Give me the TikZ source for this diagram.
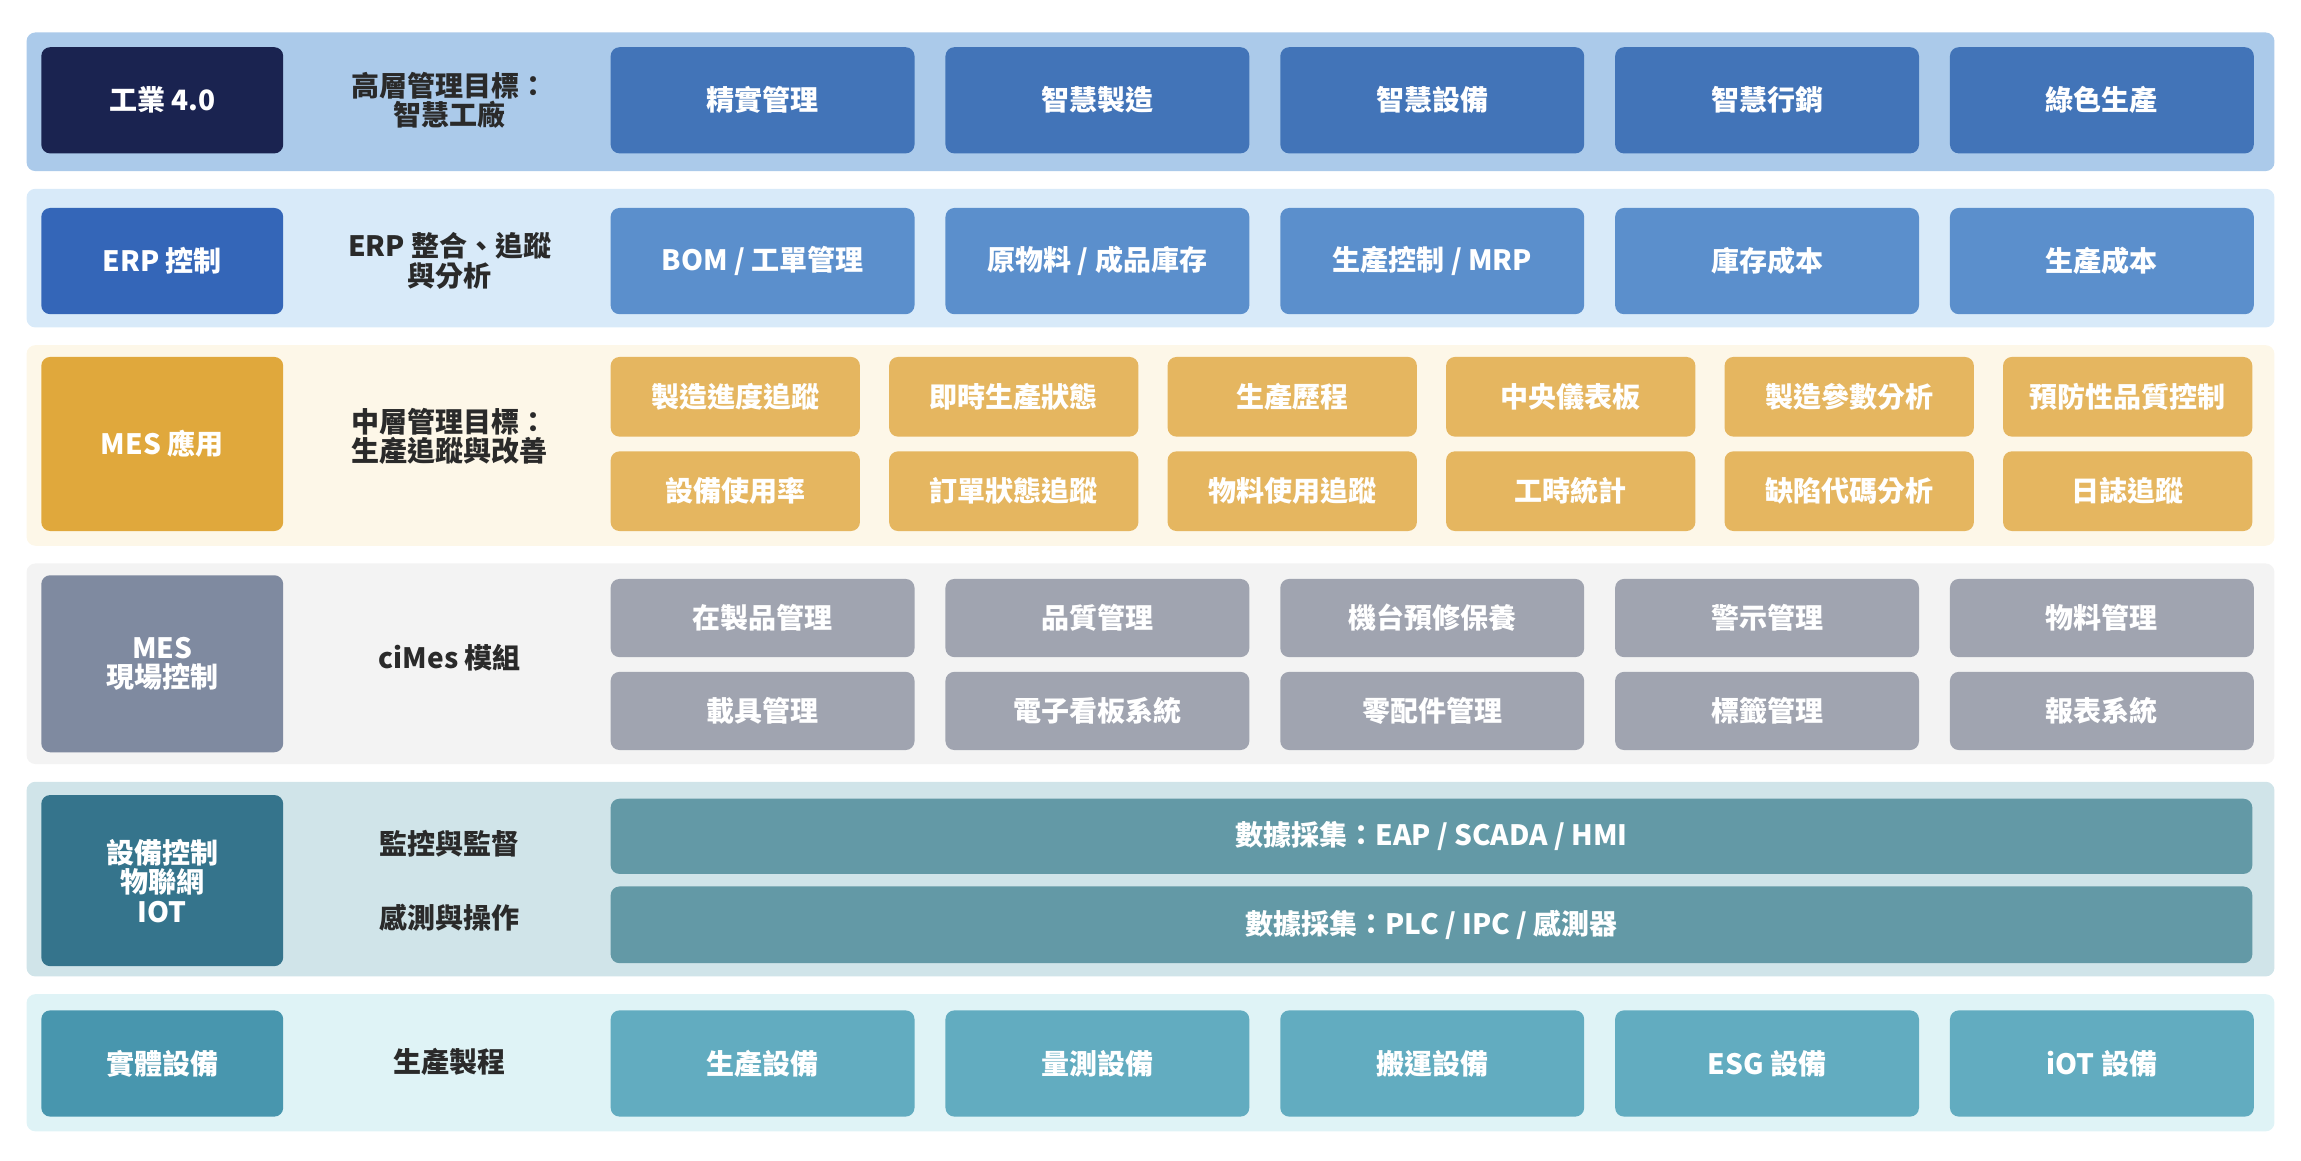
\documentclass[tikz,border=0pt]{standalone}
\usepackage{fontspec}
\setmainfont{Noto Sans CJK TC}
\usetikzlibrary{positioning}
\definecolor{bandA}{HTML}{ABCAEA}
\definecolor{bandB}{HTML}{D8EAF9}
\definecolor{bandC}{HTML}{FDF7E8}
\definecolor{bandD}{HTML}{F3F3F3}
\definecolor{bandE}{HTML}{D0E4E9}
\definecolor{bandF}{HTML}{DFF3F6}
\definecolor{headA}{HTML}{1A2350}
\definecolor{headB}{HTML}{3466B8}
\definecolor{headC}{HTML}{E0A83C}
\definecolor{headD}{HTML}{7F8AA0}
\definecolor{headE}{HTML}{35748C}
\definecolor{headF}{HTML}{4896AE}
\definecolor{itemA}{HTML}{4274B8}
\definecolor{itemB}{HTML}{5B8FCC}
\definecolor{itemC}{HTML}{E5B660}
\definecolor{itemD}{HTML}{A0A4B0}
\definecolor{itemE}{HTML}{6399A6}
\definecolor{itemF}{HTML}{62ACC0}
\definecolor{midtext}{HTML}{2A2A2A}
\begin{document}
\begin{tikzpicture}[x=1pt,y=-1pt,
    font=\fontsize{19}{23}\selectfont\bfseries,
    band/.style={rounded corners=6pt},
    head/.style={rounded corners=6pt, text=white, align=center, minimum width=164pt},
    item/.style={rounded corners=6pt, text=white, align=center},
    mid/.style={text=midtext, align=center}]
    \useasboundingbox (0,0) rectangle (1560,787);
    % Bands
    \fill[band, bandA] (18,22) rectangle (1542,116);
    \fill[band, bandB] (18,128) rectangle (1542,222);
    \fill[band, bandC] (18,234) rectangle (1542,370);
    \fill[band, bandD] (18,382) rectangle (1542,518);
    \fill[band, bandE] (18,530) rectangle (1542,662);
    \fill[band, bandF] (18,674) rectangle (1542,767);
    % Heads
    \node[head, fill=headA, minimum height=72pt] (industry) at (110,68) {工業 4.0};
    \node[head, fill=headB, minimum height=72pt] (erp) at (110,177) {ERP 控制};
    \node[head, fill=headC, minimum height=118pt] (mesapp) at (110,301) {MES 應用};
    \node[head, fill=headD, minimum height=120pt] (mesfloor) at (110,450) {MES\\[-3pt]現場控制};
    \node[head, fill=headE, minimum height=116pt] (iot) at (110,597) {設備控制\\[-3pt]物聯網\\[-3pt]IOT};
    \node[head, fill=headF, minimum height=72pt] (physical) at (110,721) {實體設備};
    % Middle labels
    \node[mid] (goal_top) at (305,68) {高層管理目標：\\[-3pt]智慧工廠};
    \node[mid] (goal_erp) at (305,177) {ERP 整合、追蹤\\[-3pt]與分析};
    \node[mid] (goal_mid) at (305,296) {中層管理目標：\\[-3pt]生產追蹤與改善};
    \node[mid] (goal_cimes) at (305,446) {ciMes 模組};
    \node[mid] (goal_watch) at (305,572) {監控與監督};
    \node[mid] (goal_sense) at (305,622) {感測與操作};
    \node[mid] (goal_proc) at (305,720) {生產製程};
    % Five-column rows
    \foreach \t [count=\i] in {精實管理,智慧製造,智慧設備,智慧行銷,綠色生產}
        \node[item, fill=itemA, minimum width=206pt, minimum height=72pt] (top\i) at (517+227*\i-227,68) {\t};
    \foreach \t [count=\i] in {BOM / 工單管理,原物料 / 成品庫存,生產控制 / MRP,庫存成本,生產成本}
        \node[item, fill=itemB, minimum width=206pt, minimum height=72pt] (erp\i) at (517+227*\i-227,177) {\t};
    \foreach \t [count=\i] in {在製品管理,品質管理,機台預修保養,警示管理,物料管理}
        \node[item, fill=itemD, minimum width=206pt, minimum height=53pt] (floorA\i) at (517+227*\i-227,419) {\t};
    \foreach \t [count=\i] in {載具管理,電子看板系統,零配件管理,標籤管理,報表系統}
        \node[item, fill=itemD, minimum width=206pt, minimum height=53pt] (floorB\i) at (517+227*\i-227,482) {\t};
    \foreach \t [count=\i] in {生產設備,量測設備,搬運設備,ESG 設備,iOT 設備}
        \node[item, fill=itemF, minimum width=206pt, minimum height=72pt] (equip\i) at (517+227*\i-227,721) {\t};
    % Six-column rows
    \foreach \t [count=\i] in {製造進度追蹤,即時生產狀態,生產歷程,中央儀表板,製造參數分析,預防性品質控制}
        \node[item, fill=itemC, minimum width=169pt, minimum height=54pt] (appA\i) at (498.5+188.8*\i-188.8,269) {\t};
    \foreach \t [count=\i] in {設備使用率,訂單狀態追蹤,物料使用追蹤,工時統計,缺陷代碼分析,日誌追蹤}
        \node[item, fill=itemC, minimum width=169pt, minimum height=54pt] (appB\i) at (498.5+188.8*\i-188.8,333) {\t};
    % Data collection bars
    \node[item, fill=itemE, minimum width=1113pt, minimum height=51pt] (eap) at (970.5,567) {數據採集：EAP / SCADA / HMI};
    \node[item, fill=itemE, minimum width=1113pt, minimum height=52pt] (plc) at (970.5,627) {數據採集：PLC / IPC / 感測器};
\end{tikzpicture}
\end{document}
